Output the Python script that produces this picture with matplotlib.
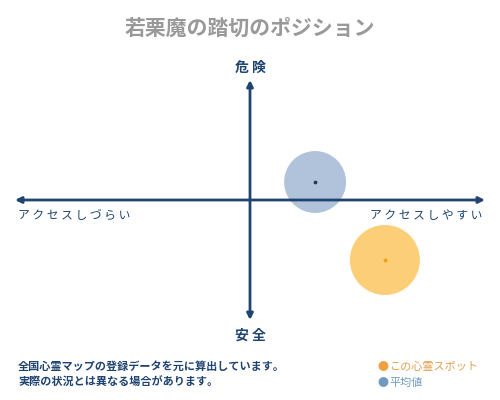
import matplotlib
matplotlib.use("Agg")
import matplotlib.pyplot as plt

plt.rcParams['font.family'] = ['Noto Sans CJK JP', 'DejaVu Sans']

# position values (x: access, y: danger), normalized -1..1
labels = ['この心霊スポット', '平均値']
xs = [0.574, 0.277]
ys = [-0.50, 0.15]
sizes = [2540, 1990]
colors = ['#fdc969', '#a9bdd6']
dot_colors = ['#f39c12', '#1f3a5a']

title = '若栗魔の踏切のポジション'
top_label, bottom_label = '危 険', '安 全'
left_label, right_label = 'ア ク セ ス し づ ら い', 'ア ク セ ス し や す い'
notes = ['全国心霊マップの登録データを元に算出しています。',
         '実際の状況とは異なる場合があります。']

navy = '#1f4470'

fig = plt.figure(figsize=(5, 4), dpi=100)
ax = fig.add_axes([0.03, 0.2, 0.94, 0.6])
ax.set_xlim(-1, 1)
ax.set_ylim(-1, 1)
ax.axis('off')

arrow = dict(arrowstyle='<|-|>', color=navy, lw=2, mutation_scale=9, shrinkA=0, shrinkB=0)
ax.annotate('', xy=(1, 0), xytext=(-1, 0), arrowprops=arrow)
ax.annotate('', xy=(0, 1), xytext=(0, -1), arrowprops=arrow)

for x, y, s, c, d in zip(xs, ys, sizes, colors, dot_colors):
    ax.scatter(x, y, s=s, color=c, alpha=0.9, edgecolors='none', zorder=2)
    ax.scatter(x, y, s=3, color=d, zorder=3)

fig.text(0.5, 0.93, title, ha='center', va='center', fontsize=15, color='#999999', fontweight='bold')
fig.text(0.5, 0.83, top_label, ha='center', va='center', fontsize=10, color=navy, fontweight='bold')
fig.text(0.5, 0.162, bottom_label, ha='center', va='center', fontsize=10, color=navy, fontweight='bold')
fig.text(0.036, 0.462, left_label, ha='left', va='center', fontsize=8.5, color=navy)
fig.text(0.964, 0.462, right_label, ha='right', va='center', fontsize=8.5, color=navy)

fig.text(0.036, 0.083, notes[0], ha='left', va='center', fontsize=8, color=navy, fontweight='bold')
fig.text(0.036, 0.043, notes[1], ha='left', va='center', fontsize=8, color=navy, fontweight='bold')

fig.text(0.756, 0.083, '●', ha='left', va='center', fontsize=8, color='#f0a040')
fig.text(0.778, 0.083, labels[0], ha='left', va='center', fontsize=8, color='#e0a050')
fig.text(0.756, 0.043, '●', ha='left', va='center', fontsize=8, color='#6f9bc0')
fig.text(0.778, 0.043, labels[1], ha='left', va='center', fontsize=8, color='#6f9bc0')

fig.savefig('out.png', dpi=100)
